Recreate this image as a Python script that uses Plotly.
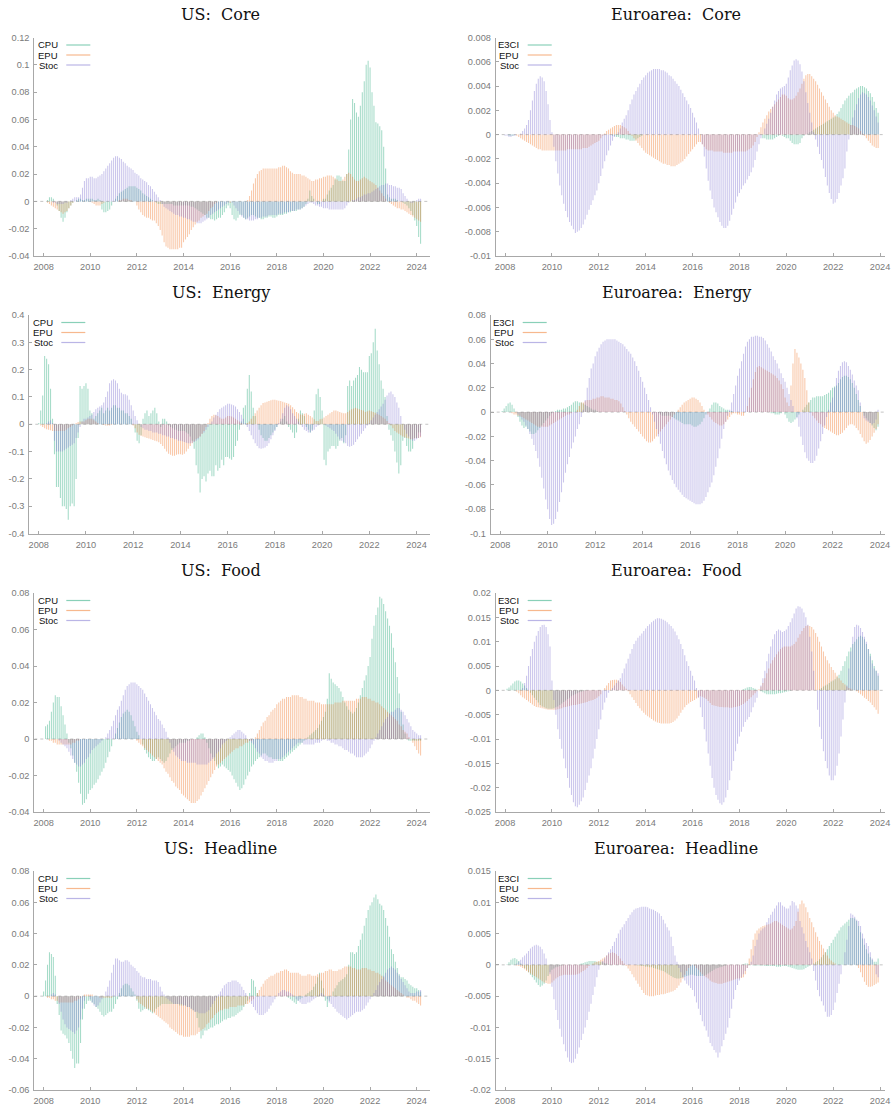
import plotly.graph_objects as go

# ---------------------------------------------------------------------------
# Monthly contributions, first bar = Jan 2008.  Values are stored as integers
# in the unit given by each panel's *_UNIT constant.
# US series run to Mar 2024, euro-area series to Dec 2023.
# ---------------------------------------------------------------------------

# US: Core  (unit 1e-3)
US_CORE_UNIT = 1e-3
US_CORE_CPU = [
    0, 0, 1, 3, 3, 2, 0, -3, -7, -12, -15, -12,
    -8, -5, -3, -1, 0, 1, 2, 2, 1, 1, 2, 2,
    2, 2, 1, 1, 2, 1, -6, -8, -8, -7, -6, -3,
    0, 2, 4, 6, 7, 8, 9, 10, 11, 11, 11, 11,
    10, 9, 8, 6, 5, 4, 3, 2, 1, 0, -1, -2,
    -2, -2, -2, -2, -2, -2, -2, -3, -3, -3, -3, -3,
    -3, -3, -3, -3, -4, -4, -5, -6, -7, -8, -9, -10,
    -12, -12, -13, -13, -14, -13, -12, -12, -10, -8, -5, -3,
    -5, -10, -13, -14, -12, -10, -10, -12, -13, -12, -11, -10,
    -10, -11, -12, -12, -13, -13, -12, -12, -11, -11, -12, -12,
    -11, -10, -10, -10, -9, -9, -8, -8, -7, -7, -7, -6,
    -6, -5, -4, -2, 2, 8, 4, 2, 0, -2, -2, 0,
    2, 2, 5, 8, 10, 12, 16, 19, 19, 18, 15, 15,
    20, 38, 60, 75, 72, 65, 62, 70, 80, 88, 100, 103,
    98, 80, 70, 58, 57, 55, 52, 40, 24, 5, 3, 2,
    2, 2, 1, 0, 0, -1, -2, -3, -5, -7, -10, -14,
    -18, -26, -31,
]
US_CORE_EPU = [
    0, 0, -1, -2, -3, -4, -5, -6, -7, -8, -9, -8,
    -7, -5, -3, -1, 0, 0, 0, 0, 0, 0, 0, 0,
    0, -1, -2, -3, -3, -3, -2, -1, 0, 0, 0, 0,
    0, 0, 0, 1, 1, 2, 2, 2, 1, 1, 0, 0,
    -3, -6, -8, -10, -11, -12, -12, -13, -14, -14, -16, -18,
    -21, -25, -30, -33, -34, -35, -35, -35, -35, -35, -34, -34,
    -30, -28, -26, -24, -21, -19, -17, -15, -14, -12, -11, -10,
    -9, -7, -5, -4, -2, -1, 0, 0, 0, 0, 0, 0,
    -1, 0, 0, 0, 0, 0, 0, 0, 0, 1, 4, 8,
    13, 17, 20, 22, 23, 24, 24, 24, 24, 24, 24, 24,
    24, 25, 25, 26, 26, 25, 24, 22, 21, 20, 20, 20,
    20, 19, 19, 18, 17, 16, 15, 15, 16, 16, 17, 17,
    18, 18, 19, 19, 19, 18, 17, 16, 15, 15, 16, 18,
    20, 21, 20, 18, 16, 15, 15, 16, 17, 18, 17, 16,
    15, 14, 13, 12, 10, 8, 6, 4, 2, 0, -1, -2,
    -3, -4, -5, -5, -6, -6, -7, -8, -9, -10, -11, -12,
    -13, -14, -15,
]
US_CORE_STOC = [
    0, 0, 0, 0, 0, -1, -1, -2, -2, -2, -2, -1,
    -1, 0, 1, 2, 3, 3, 3, 5, 10, 15, 17, 17,
    18, 18, 17, 17, 18, 19, 20, 22, 24, 26, 28, 30,
    32, 33, 33, 32, 31, 29, 28, 26, 25, 24, 23, 21,
    20, 19, 17, 16, 15, 14, 12, 11, 9, 7, 5, 3,
    1, -2, -4, -5, -6, -7, -8, -9, -10, -10, -11, -11,
    -12, -12, -13, -13, -14, -15, -15, -16, -16, -16, -15, -14,
    -13, -12, -10, -9, -8, -7, -6, -5, -4, -3, -2, -1,
    0, -1, -3, -5, -7, -9, -11, -12, -13, -13, -14, -14,
    -14, -13, -13, -12, -12, -11, -11, -11, -10, -10, -10, -10,
    -10, -9, -9, -9, -8, -8, -8, -7, -7, -7, -6, -6,
    -6, -5, -4, -3, -2, -1, -1, -2, -3, -3, -4, -4,
    -5, -5, -5, -6, -6, -6, -6, -6, -6, -6, -6, -5,
    -3, -1, 0, 1, 1, 2, 3, 3, 4, 5, 5, 6,
    6, 7, 8, 9, 10, 11, 12, 12, 13, 13, 12, 12,
    11, 11, 10, 10, 9, 6, 4, 2, 0, -1, -1, 0,
    1, 2, 2,
]
US_CORE_YTICKS = [-0.04, -0.02, 0, 0.02, 0.04, 0.06, 0.08, 0.1, 0.12]

# US: Energy  (unit 1e-3)
US_ENERGY_UNIT = 1e-3
US_ENERGY_CPU = [
    5, 50, 105, 250, 240, 220, 130, 20, -110, -230, -230, -270,
    -300, -300, -310, -350, -300, -290, -300, -200, -50, 140, 130, 140,
    150, 130, 50, 40, 20, 30, 40, 50, 60, 40, 50, 60,
    50, 60, 70, 70, 60, 60, 50, 50, 40, 40, 30, 20,
    0, -30, -60, -70, -40, 20, 40, 50, 30, 40, 50, 60,
    40, 10, -10, 20, 20, 10, -5, -10, -15, -20, -20, -25,
    -25, -25, -25, -30, -35, -45, -60, -90, -150, -180, -250, -200,
    -190, -210, -180, -170, -190, -190, -150, -170, -160, -130, -150, -120,
    -120, -125, -130, -120, -80, -60, -20, 10, 60, 70, 130, 180,
    120, 60, 30, 0, -20, -40, -50, -60, -60, -50, -40, -30,
    -20, -10, 0, 10, 20, 30, 10, -10, -20, -30, -50, -30,
    20, 50, 40, 30, -10, -20, -30, -20, 50, 110, 130, 100,
    50, -130, -150, -100, -90, -80, -80, -90, -80, -60, -50, -70,
    -40, 140, 160, 140, 160, 170, 180, 210, 200, 190, 190, 190,
    250, 260, 300, 350, 270, 220, 160, 130, 100, 30, -20, -40,
    -60, -100, -140, -180, -150, -60, -50, -80, -100, -100, -90, -50,
    -50, -30, -30,
]
US_ENERGY_EPU = [
    0, -5, -10, -15, -18, -20, -22, -25, -25, -25, -25, -25,
    -25, -25, -20, -15, -10, -5, 0, 5, 8, 10, 10, 10,
    15, 20, 20, 20, 15, 10, 5, 0, 0, -3, -5, -5,
    -5, -3, 0, 0, 0, 0, 0, 0, 0, 0, 0, 0,
    -5, -15, -30, -38, -42, -45, -48, -50, -52, -55, -58, -60,
    -62, -66, -72, -80, -90, -100, -108, -112, -115, -115, -112, -110,
    -110, -112, -108, -100, -90, -80, -70, -62, -55, -50, -45, -35,
    -25, -10, 5, 20, 30, 35, 33, 30, 25, 20, 20, 25,
    30, 30, 28, 25, 20, 15, 10, 5, 2, 0, 5, 10,
    20, 30, 40, 50, 60, 70, 78, 80, 82, 85, 88, 90,
    90, 88, 86, 85, 82, 80, 78, 75, 70, 62, 55, 45,
    40, 36, 35, 38, 40, 35, 30, 25, 18, 12, 12, 18,
    20, 25, 30, 35, 40, 45, 50, 50, 48, 45, 42, 40,
    40, 45, 50, 55, 58, 60, 58, 55, 52, 50, 45, 48,
    50, 48, 45, 42, 38, 35, 30, 25, 20, 12, 5, -5,
    -15, -25, -30, -35, -40, -45, -48, -50, -52, -55, -55, -52,
    -50, -50, -48,
]
US_ENERGY_STOC = [
    0, 0, 0, 0, 5, 10, 15, 5, -60, -100, -100, -100,
    -100, -95, -90, -85, -80, -75, -70, -50, -30, -10, 10, 20,
    20, 25, 30, 35, 45, 55, 60, 65, 70, 80, 100, 120,
    150, 160, 165, 160, 150, 130, 115, 110, 110, 105, 90, 70,
    50, 30, 15, 0, -10, -15, -20, -20, -25, -25, -30, -30,
    -30, -35, -35, -40, -40, -45, -45, -50, -50, -55, -55, -60,
    -60, -62, -65, -68, -70, -70, -68, -65, -60, -55, -45, -35,
    -30, -20, -10, 0, 10, 25, 35, 45, 55, 60, 65, 70,
    75, 75, 72, 70, 65, 55, 45, 35, 20, 5, -10, -25,
    -40, -55, -70, -80, -88, -90, -88, -85, -80, -70, -55, -40,
    -25, -10, 5, 20, 40, 60, 70, 65, 55, 40, 30, 20,
    10, 0, -10, -20, -25, -30, -30, -25, -20, -10, -5, 0,
    0, 0, -5, -10, -15, -20, -25, -35, -45, -55, -60, -65,
    -70, -80, -82, -80, -75, -65, -55, -45, -35, -25, -15, -5,
    5, 15, 25, 35, 45, 55, 65, 75, 90, 105, 115, 120,
    110, 100, 80, 60, 30, 0, -20, -35, -45, -55, -60, -60,
    -55, -50, -45,
]
US_ENERGY_YTICKS = [-0.4, -0.3, -0.2, -0.1, 0, 0.1, 0.2, 0.3, 0.4]

# US: Food  (unit 1e-3)
US_FOOD_UNIT = 1e-3
US_FOOD_CPU = [
    0, 7, 8, 10, 15, 20, 24, 23, 23, 18, 13, 8,
    3, -2, -5, -9, -13, -18, -24, -30, -36, -35, -33, -30,
    -28, -27, -25, -24, -22, -20, -18, -16, -13, -10, -7, -4,
    0, 3, 6, 9, 12, 14, 15, 16, 15, 13, 10, 7,
    4, 2, 0, -3, -6, -8, -10, -11, -12, -12, -11, -10,
    -11, -12, -13, -12, -10, -8, -6, -5, -4, -3, -2, -2,
    -2, -2, -1, -1, 0, 0, 0, 1, 2, 3, 3, 1,
    -2, -5, -8, -10, -12, -14, -16, -15, -14, -15, -16, -17,
    -18, -20, -22, -24, -26, -28, -27, -25, -22, -20, -18, -15,
    -14, -12, -11, -10, -9, -8, -8, -9, -10, -10, -11, -11,
    -11, -12, -12, -12, -11, -10, -9, -8, -7, -6, -5, -4,
    -3, -2, -1, 0, 1, 2, 3, 4, 5, 6, 8, 10,
    12, 15, 22, 36, 33, 31, 30, 29, 28, 26, 23, 20,
    18, 16, 15, 14, 15, 17, 20, 24, 28, 32, 35, 40,
    45, 55, 62, 68, 72, 78, 77, 74, 70, 66, 62, 58,
    50, 42, 34, 25, 15, 8, 3, 0, -1, -1, -1, -1,
    -1, -1, -1,
]
US_FOOD_EPU = [
    0, 0, 0, -1, -1, -2, -2, -3, -3, -3, -3, -3,
    -3, -3, -3, -2, -2, -1, -1, 0, 0, 0, 0, 0,
    0, 0, 0, 0, 0, 0, 0, 0, 0, 0, 0, 0,
    0, 0, 0, 0, 0, 0, 0, 0, 0, 0, 0, 0,
    -1, -2, -3, -4, -5, -6, -7, -8, -9, -10, -11, -12,
    -13, -14, -16, -18, -19, -21, -23, -24, -26, -27, -28, -30,
    -31, -32, -33, -34, -35, -35, -35, -34, -33, -31, -29, -27,
    -25, -23, -21, -19, -17, -15, -14, -13, -12, -11, -10, -9,
    -8, -7, -6, -5, -5, -4, -4, -3, -2, -2, -1, -1,
    0, 1, 3, 5, 7, 9, 10, 12, 13, 15, 16, 17,
    19, 20, 21, 22, 22, 23, 23, 23, 24, 24, 24, 24,
    23, 23, 22, 22, 21, 21, 21, 21, 20, 20, 20, 19,
    19, 19, 19, 19, 19, 19, 20, 20, 20, 20, 21, 21,
    21, 21, 21, 21, 21, 22, 22, 22, 23, 23, 23, 22,
    22, 21, 21, 20, 20, 19, 18, 17, 16, 15, 14, 13,
    12, 11, 10, 8, 7, 5, 4, 3, 1, 0, -2, -4,
    -6, -8, -9,
]
US_FOOD_STOC = [
    0, 0, 0, 0, 0, 0, 0, 0, -1, -2, -3, -4,
    -5, -7, -9, -11, -13, -14, -15, -15, -14, -13, -11, -10,
    -8, -6, -5, -4, -3, -2, -1, 0, 1, 3, 5, 7,
    10, 13, 16, 18, 21, 24, 27, 29, 30, 31, 31, 31,
    30, 29, 28, 27, 25, 23, 21, 19, 17, 15, 13, 11,
    10, 8, 6, 4, 1, -2, -5, -7, -9, -10, -11, -12,
    -12, -12, -13, -13, -13, -13, -13, -14, -14, -14, -14, -14,
    -14, -13, -12, -11, -10, -8, -7, -5, -3, -2, -1, 0,
    1, 2, 3, 4, 5, 5, 4, 3, 2, 0, -1, -2,
    -3, -5, -7, -8, -10, -11, -12, -12, -13, -13, -13, -12,
    -12, -11, -11, -10, -9, -8, -7, -6, -5, -4, -3, -2,
    -2, -2, -3, -3, -3, -3, -3, -3, -2, -2, -2, -1,
    0, 0, -1, -1, -2, -2, -3, -3, -4, -4, -5, -6,
    -6, -7, -8, -8, -9, -10, -10, -10, -10, -9, -8, -7,
    -5, -3, -1, 1, 3, 5, 7, 9, 11, 12, 14, 15,
    15, 16, 17, 17, 16, 15, 13, 11, 9, 7, 5, 4,
    3, 2, 2,
]
US_FOOD_YTICKS = [-0.04, -0.02, 0, 0.02, 0.04, 0.06, 0.08]

# US: Headline  (unit 1e-3)
US_HEAD_UNIT = 1e-3
US_HEAD_CPU = [
    3, 10, 20, 28, 27, 25, 13, -5, -12, -22, -24, -25,
    -27, -30, -35, -40, -46, -43, -43, -30, -15, -8, -5, -3,
    -3, -4, -5, -7, -8, -10, -12, -13, -12, -11, -10, -10,
    -8, -5, -2, 2, 5, 7, 8, 8, 7, 5, 3, 1,
    -3, -8, -10, -9, -8, -8, -9, -10, -11, -10, -8, -7,
    -6, -5, -5, -5, -5, -5, -5, -5, -5, -5, -6, -6,
    -6, -6, -7, -7, -8, -9, -10, -14, -20, -27, -25, -22,
    -22, -21, -20, -20, -19, -18, -18, -17, -16, -15, -15, -14,
    -14, -13, -13, -12, -11, -10, -9, -7, -5, -3, 2, 11,
    10, 6, 2, 0, 0, 0, 0, 0, 0, 0, 0, 0,
    0, 0, 0, 0, 0, 0, -1, -2, -3, -4, -5, -3,
    -2, -1, 0, 1, 2, 3, 4, 6, 8, 12, 15, 10,
    5, -3, -7, -3, 0, 3, 5, 7, 9, 10, 11, 12,
    14, 20, 28, 28, 27, 28, 32, 36, 40, 45, 50, 55,
    58, 60, 63, 65, 62, 59, 58, 55, 50, 45, 38, 30,
    27, 22, 18, 14, 12, 12, 11, 10, 8, 7, 6, 5,
    5, 4, 3,
]
US_HEAD_EPU = [
    0, 0, -1, -1, -2, -2, -3, -3, -4, -4, -4, -4,
    -4, -4, -4, -4, -3, -3, -2, -1, 0, 1, 1, 1,
    1, 1, 0, 0, 0, -1, -1, -1, -1, -1, -1, -1,
    0, 0, 0, 0, 0, 0, 0, 0, 0, 0, 0, 0,
    -2, -4, -5, -6, -7, -8, -8, -9, -10, -11, -12, -13,
    -14, -15, -16, -17, -18, -20, -21, -22, -23, -24, -25, -25,
    -26, -26, -26, -26, -25, -25, -25, -24, -23, -22, -21, -20,
    -18, -17, -15, -14, -12, -11, -10, -9, -9, -8, -8, -8,
    -7, -7, -7, -7, -6, -6, -6, -6, -5, -5, -4, -3,
    -2, 0, 2, 4, 6, 8, 10, 11, 12, 13, 13, 14,
    15, 15, 16, 16, 17, 17, 16, 15, 15, 15, 15, 15,
    14, 13, 13, 13, 14, 14, 13, 13, 13, 14, 14, 15,
    15, 16, 16, 17, 17, 16, 16, 16, 17, 17, 18, 19,
    19, 19, 19, 18, 18, 17, 17, 17, 18, 18, 18, 17,
    17, 16, 16, 15, 15, 14, 13, 12, 10, 9, 8, 7,
    6, 5, 4, 3, 2, 1, 0, -1, -1, -2, -3, -3,
    -4, -5, -6,
]
US_HEAD_STOC = [
    0, 0, 0, 0, 1, 2, 1, 0, -5, -10, -15, -18,
    -20, -21, -22, -23, -24, -22, -20, -15, -8, -3, 0, 0,
    -2, -4, -6, -7, -6, -4, -2, 0, 3, 6, 10, 15,
    20, 24, 24, 23, 22, 22, 23, 23, 22, 20, 19, 18,
    16, 15, 13, 12, 12, 11, 11, 11, 10, 10, 10, 9,
    6, 3, 1, -1, -2, -3, -4, -5, -5, -5, -5, -5,
    -6, -6, -7, -7, -8, -9, -10, -10, -11, -11, -11, -11,
    -10, -9, -7, -5, -3, -1, 1, 3, 5, 7, 8, 9,
    9, 10, 10, 10, 9, 8, 6, 4, 2, 0, -2, -5,
    -7, -9, -11, -12, -12, -12, -11, -10, -8, -6, -4, -2,
    0, 2, 3, 4, 4, 3, 3, 2, 1, 0, -2, -3,
    -4, -5, -5, -5, -4, -4, -3, -2, -1, 0, 1, 2,
    1, 0, -2, -4, -5, -7, -8, -10, -11, -12, -13, -14,
    -15, -14, -13, -12, -11, -10, -10, -10, -9, -8, -6, -4,
    -2, 0, 2, 4, 7, 9, 11, 13, 15, 17, 18, 19,
    18, 17, 15, 13, 11, 9, 7, 5, 3, 2, 2, 2,
    3, 3, 4,
]
US_HEAD_YTICKS = [-0.06, -0.04, -0.02, 0, 0.02, 0.04, 0.06, 0.08]

# Euroarea: Core  (unit 1e-4)
EA_CORE_UNIT = 1e-4
EA_CORE_E3CI = [
    0, 0, -1, -1, -1, 0, 0, 0, 0, 0, 0, 0,
    0, 0, 0, 0, 0, 0, 0, 0, 0, 0, 0, 0,
    0, 0, 0, 0, 0, 0, 0, 0, 0, 0, 0, 0,
    0, 0, 0, 0, 0, 0, 0, 0, 0, 0, 0, 0,
    0, 0, 0, 0, 0, 0, 0, -1, -1, -2, -2, -3,
    -3, -3, -4, -4, -5, -5, -5, -4, -3, -2, -1, 0,
    0, 0, 0, 0, 0, 0, 0, 0, 0, 0, 0, 0,
    0, 0, 0, 0, 0, 0, 0, 0, 0, 0, 0, 0,
    0, 0, 0, 0, 0, 0, 0, 0, 0, 0, 0, 0,
    0, 0, 0, 0, 0, 0, 0, 0, 0, 0, 0, 0,
    0, 0, 0, 0, 0, 0, 0, 0, 0, 0, 0, 0,
    -3, -3, -4, -4, -4, -4, -3, -2, -1, 0, -1, -2,
    -3, -3, -5, -7, -8, -8, -8, -7, -3, -1, 0, 1,
    2, 3, 4, 5, 6, 7, 8, 9, 10, 11, 12, 13,
    14, 15, 17, 19, 22, 25, 28, 30, 32, 34, 35, 37,
    38, 39, 40, 40, 39, 38, 36, 34, 31, 27, 22, 18,
]
EA_CORE_EPU = [
    0, 0, 0, 0, 0, 0, -1, -2, -3, -4, -5, -6,
    -7, -8, -9, -10, -11, -12, -12, -13, -13, -13, -13, -13,
    -13, -13, -13, -13, -13, -13, -13, -13, -12, -12, -12, -12,
    -12, -12, -12, -12, -11, -11, -11, -10, -9, -8, -7, -6,
    -5, -3, -1, 1, 3, 4, 5, 6, 7, 8, 8, 8,
    7, 6, 5, 3, 1, -1, -3, -5, -7, -9, -11, -13,
    -15, -16, -17, -18, -19, -20, -21, -22, -23, -24, -24, -25,
    -25, -26, -26, -26, -25, -24, -23, -22, -20, -18, -16, -14,
    -12, -10, -8, -6, -6, -8, -10, -12, -13, -13, -13, -14,
    -14, -14, -14, -14, -15, -15, -15, -15, -15, -14, -14, -14,
    -14, -14, -14, -14, -13, -12, -11, -9, -6, -2, 2, 6,
    10, 13, 16, 19, 21, 23, 25, 27, 29, 31, 33, 33,
    32, 30, 29, 29, 30, 32, 35, 38, 42, 46, 49, 50,
    50, 48, 46, 44, 41, 38, 35, 32, 29, 26, 23, 20,
    18, 16, 15, 14, 13, 12, 11, 10, 9, 8, 8, 7,
    6, 5, 3, 1, -1, -3, -5, -7, -9, -10, -11, -11,
]
EA_CORE_STOC = [
    -1, -1, -2, -2, -1, -1, 0, 0, 1, 3, 5, 8,
    12, 20, 28, 36, 42, 46, 48, 47, 44, 36, 25, 12,
    2, -10, -22, -32, -42, -50, -57, -63, -68, -72, -75, -78,
    -81, -80, -79, -77, -74, -70, -66, -62, -58, -54, -50, -46,
    -40, -34, -28, -22, -17, -13, -9, -5, -2, 0, 2, 5,
    10, 13, 16, 20, 25, 29, 33, 36, 39, 42, 45, 47,
    49, 51, 52, 53, 54, 54, 54, 54, 53, 53, 52, 51,
    49, 48, 46, 44, 42, 40, 37, 34, 31, 28, 25, 22,
    18, 14, 10, 5, 0, -8, -18, -28, -38, -46, -53, -60,
    -64, -68, -72, -75, -77, -77, -75, -71, -66, -61, -56, -51,
    -48, -45, -42, -40, -37, -34, -31, -27, -21, -14, -8, -3,
    0, 5, 9, 13, 18, 23, 28, 33, 36, 38, 39, 40,
    42, 47, 53, 57, 61, 62, 61, 58, 52, 44, 35, 26,
    18, 10, 2, -4, -10, -16, -21, -28, -35, -42, -48, -53,
    -57, -56, -53, -48, -42, -36, -28, -14, -4, 8, 14, 20,
    25, 30, 33, 35, 34, 33, 31, 28, 24, 20, 15, 10,
]
EA_CORE_YTICKS = [-0.01, -0.008, -0.006, -0.004, -0.002, 0,
                  0.002, 0.004, 0.006, 0.008]

# Euroarea: Energy  (unit 1e-3)
EA_ENERGY_UNIT = 1e-3
EA_ENERGY_E3CI = [
    0, 1, 3, 5, 7, 8, 6, 3, 0, -4, -8, -11,
    -13, -12, -14, -16, -18, -18, -17, -15, -13, -11, -9, -7,
    -5, -3, -1, 0, 1, 2, 2, 2, 3, 3, 4, 5,
    6, 8, 9, 9, 8, 8, 7, 6, 5, 4, 3, 2,
    2, 1, 0, 0, 0, 0, 0, 0, 0, 0, 0, 0,
    0, 0, 0, 0, 0, 0, 0, 0, 0, 0, 0, 0,
    0, 0, 0, 0, 0, 0, 0, 0, -1, -2, -3, -3,
    -3, -3, -3, -4, -5, -6, -7, -8, -9, -10, -10, -10,
    -10, -11, -12, -12, -11, -10, -8, -5, -2, 0, 3, 6,
    8, 8, 7, 5, 4, 3, 2, 2, 1, 1, 0, 0,
    0, 0, 0, 0, 0, 0, 0, 0, 0, 0, 0, 0,
    0, 0, 0, 0, 0, -1, -1, -2, -2, -2, -1, 0,
    -2, -5, -8, -9, -8, -6, -4, -2, 0, 2, 4, 6,
    8, 10, 12, 12, 13, 13, 13, 13, 14, 15, 16, 18,
    20, 21, 22, 24, 27, 29, 30, 30, 29, 27, 24, 20,
    15, 10, 5, 0, -3, -5, -7, -9, -11, -13, -15, -12,
]
EA_ENERGY_EPU = [
    0, 0, 0, 0, 0, 0, -1, -2, -2, -3, -3, -4,
    -5, -6, -7, -8, -9, -10, -11, -12, -12, -12, -12, -12,
    -12, -11, -10, -9, -8, -7, -6, -5, -4, -3, -2, -2,
    -1, 0, 0, 2, 5, 8, 8, 9, 10, 10, 10, 11,
    11, 12, 12, 13, 13, 12, 12, 12, 11, 11, 10, 10,
    9, 7, 4, 1, -2, -5, -8, -10, -12, -14, -16, -18,
    -20, -22, -24, -25, -25, -24, -22, -20, -18, -16, -14, -12,
    -10, -8, -6, -4, -2, 0, 2, 4, 6, 8, 9, 10,
    11, 12, 12, 11, 10, 8, 5, 2, 0, -2, -4, -6,
    -8, -9, -10, -11, -11, -10, -8, -6, -4, -2, -1, -1,
    -2, -2, -3, -3, 0, 5, 12, 20, 27, 33, 37, 38,
    37, 36, 35, 34, 33, 32, 31, 30, 28, 26, 23, 19,
    12, 8, 5, 22, 40, 52, 49, 45, 40, 35, 28, 18,
    8, 0, -3, -5, -7, -9, -10, -12, -13, -14, -15, -16,
    -17, -18, -19, -19, -18, -17, -15, -13, -11, -10, -10, -11,
    -13, -15, -18, -21, -24, -26, -25, -23, -20, -17, -14, -10,
]
EA_ENERGY_STOC = [
    0, 0, 0, 0, 0, 0, 0, 0, 0, -2, -4, -6,
    -8, -11, -14, -18, -22, -27, -32, -38, -45, -54, -63, -72,
    -80, -88, -93, -92, -88, -82, -74, -66, -58, -50, -43, -37,
    -30, -25, -20, -14, -10, -4, 2, 10, 20, 28, 36, 40,
    46, 50, 53, 56, 58, 59, 60, 60, 60, 60, 60, 59,
    58, 57, 56, 54, 52, 50, 48, 45, 42, 38, 34, 29,
    25, 20, 15, 10, 4, -2, -8, -14, -20, -26, -32, -38,
    -43, -48, -52, -56, -59, -62, -64, -66, -68, -70, -71, -72,
    -73, -74, -75, -76, -76, -76, -75, -73, -70, -66, -62, -58,
    -52, -45, -38, -30, -22, -14, -8, -3, 2, 8, 15, 22,
    30, 36, 42, 48, 54, 58, 60, 62, 62, 63, 63, 62,
    62, 61, 59, 56, 53, 50, 46, 43, 40, 36, 32, 28,
    25, 20, 15, 10, 5, 0, -5, -12, -20, -27, -33, -38,
    -40, -42, -42, -40, -36, -30, -24, -18, -11, -4, 2, 8,
    12, 20, 28, 34, 38, 41, 42, 41, 38, 35, 31, 26,
    22, 18, 8, 0, -5, -7, -8, -9, -10, -9, -6, 2,
]
EA_ENERGY_YTICKS = [-0.1, -0.08, -0.06, -0.04, -0.02, 0, 0.02, 0.04, 0.06, 0.08]

# Euroarea: Food  (unit 1e-4)
EA_FOOD_UNIT = 1e-4
EA_FOOD_E3CI = [
    0, 3, 6, 10, 14, 18, 20, 20, 18, 14, 10, 5,
    0, -5, -10, -15, -20, -25, -30, -33, -35, -37, -38, -38,
    -38, -37, -35, -33, -30, -27, -24, -21, -18, -15, -12, -10,
    -8, -6, -4, -3, -2, -1, 0, 0, 0, 0, 0, 0,
    0, 0, 0, 0, 0, 0, 0, 0, 0, 0, 0, 0,
    0, 0, 0, 0, 0, 0, 0, 0, 0, 0, 0, 0,
    0, 0, 0, 0, 0, 0, 0, 0, 0, 0, 0, 0,
    0, 0, 0, 0, 0, 0, 0, 0, 0, 0, 0, 0,
    0, 0, 0, 0, 0, 0, 0, 0, 0, 0, 0, 0,
    0, 0, 0, 0, 0, 0, 0, 0, 0, 0, 0, 0,
    0, 0, 2, 4, 6, 7, 7, 5, 3, 1, 0, -2,
    -4, -6, -8, -8, -8, -8, -8, -7, -6, -6, -5, -4,
    -3, -2, -1, 0, 0, 0, 0, 0, 0, 0, 0, 0,
    0, 0, 0, 0, 0, 2, 5, 8, 10, 12, 15, 18,
    20, 23, 27, 32, 40, 50, 60, 70, 80, 88, 95, 100,
    105, 110, 112, 110, 105, 95, 85, 75, 62, 50, 40, 30,
]
EA_FOOD_EPU = [
    0, 0, 0, 0, 0, 0, -3, -6, -10, -14, -17, -20,
    -23, -26, -29, -32, -34, -35, -36, -37, -38, -39, -40, -40,
    -40, -40, -40, -39, -38, -37, -35, -34, -33, -32, -31, -30,
    -30, -29, -28, -27, -26, -25, -24, -22, -21, -20, -18, -15,
    -12, -8, 0, 5, 10, 15, 20, 21, 22, 22, 20, 17,
    12, 8, 3, -2, -8, -14, -20, -26, -32, -37, -42, -46,
    -50, -53, -56, -59, -62, -64, -66, -67, -68, -68, -68, -68,
    -68, -67, -65, -62, -58, -52, -46, -40, -35, -30, -27, -24,
    -22, -20, -17, -14, -12, -13, -15, -18, -22, -26, -30, -31,
    -32, -33, -34, -34, -35, -35, -35, -36, -36, -35, -34, -33,
    -32, -30, -28, -25, -22, -18, -14, -10, -6, -2, 2, 8,
    15, 25, 35, 45, 55, 62, 68, 74, 80, 85, 88, 90,
    90, 90, 90, 92, 95, 100, 108, 115, 122, 128, 132, 133,
    132, 130, 125, 118, 110, 100, 90, 80, 70, 62, 55, 48,
    42, 36, 30, 25, 20, 15, 12, 8, 5, 3, 1, 0,
    -2, -5, -8, -11, -15, -18, -22, -25, -30, -35, -40, -48,
]
EA_FOOD_STOC = [
    0, 0, 0, 0, 0, 0, 0, 0, 0, 5, 15, 30,
    50, 70, 85, 100, 112, 122, 130, 134, 135, 130, 115, 90,
    20, -20, -50, -80, -100, -120, -140, -160, -180, -200, -215, -230,
    -238, -240, -235, -228, -220, -205, -190, -175, -160, -140, -120, -100,
    -80, -60, -40, -25, -15, -5, 0, 5, 10, 15, 20, 25,
    35, 45, 55, 65, 75, 85, 95, 102, 108, 112, 117, 122,
    127, 132, 136, 140, 143, 146, 148, 148, 147, 145, 143, 140,
    136, 132, 127, 121, 113, 105, 95, 85, 72, 60, 50, 40,
    30, 20, 5, -15, -35, -55, -80, -105, -130, -155, -180, -200,
    -215, -225, -232, -235, -230, -220, -205, -185, -165, -145, -125, -110,
    -95, -85, -75, -65, -60, -55, -45, -35, -25, -15, 0, 10,
    25, 40, 60, 75, 90, 105, 115, 122, 125, 123, 120, 122,
    125, 132, 140, 148, 158, 168, 173, 172, 168, 160, 150, 135,
    110, 80, 40, 0, -40, -75, -100, -125, -145, -160, -175, -185,
    -185, -175, -155, -130, -95, -60, -25, 10, 45, 80, 110, 130,
    135, 133, 128, 120, 110, 100, 85, 70, 55, 45, 40, 35,
]
EA_FOOD_YTICKS = [-0.025, -0.02, -0.015, -0.01, -0.005, 0,
                  0.005, 0.01, 0.015, 0.02]

# Euroarea: Headline  (unit 1e-4)
EA_HEAD_UNIT = 1e-4
EA_HEAD_E3CI = [
    0, 1, 4, 8, 10, 11, 9, 6, 2, -2, -5, -8,
    -12, -16, -20, -24, -28, -32, -35, -33, -30, -25, -18, -12,
    -8, -6, -4, -3, -2, -1, 0, 0, 0, 0, 0, 0,
    0, 0, 1, 2, 3, 4, 5, 6, 6, 6, 6, 5,
    5, 5, 4, 3, 2, 1, 0, 0, 0, 0, 0, 0,
    0, 0, 0, 0, 0, 0, 0, 0, -1, -1, -2, -2,
    -3, -3, -4, -4, -5, -6, -7, -8, -9, -10, -12, -14,
    -16, -18, -20, -21, -22, -22, -21, -20, -19, -18, -17, -16,
    -16, -17, -18, -18, -18, -18, -17, -16, -14, -12, -10, -8,
    -6, -5, -4, -3, -2, -1, 0, 0, 0, 0, 0, 0,
    0, 0, 1, 2, 2, 1, 0, -1, -1, -1, -1, -1,
    -1, -2, -2, -2, -2, -2, -2, -3, -3, -3, -2, -2,
    -2, -3, -4, -5, -6, -7, -8, -8, -8, -7, -5, -3,
    -1, 0, 2, 4, 6, 9, 12, 16, 20, 25, 30, 35,
    40, 45, 50, 55, 60, 63, 66, 69, 72, 75, 75, 74,
    70, 62, 52, 42, 32, 25, 18, 12, 8, 5, 5, 10,
]
EA_HEAD_EPU = [
    0, 0, 0, 0, 0, 0, -1, -2, -3, -5, -7, -10,
    -12, -14, -16, -18, -20, -22, -24, -26, -28, -29, -30, -30,
    -28, -25, -22, -20, -18, -17, -16, -16, -16, -16, -16, -16,
    -16, -15, -14, -12, -10, -8, -5, -2, 0, 2, 4, 5,
    6, 8, 10, 12, 15, 18, 19, 20, 19, 17, 14, 10,
    6, 2, -2, -6, -10, -15, -20, -25, -30, -35, -40, -45,
    -48, -49, -50, -50, -50, -49, -48, -48, -47, -47, -46, -45,
    -44, -43, -42, -40, -37, -33, -28, -22, -16, -10, -5, -2,
    0, -2, -5, -8, -12, -15, -18, -20, -22, -25, -27, -28,
    -29, -30, -30, -30, -29, -28, -27, -26, -25, -24, -23, -22,
    -22, -21, -20, -15, -5, 10, 25, 40, 50, 55, 58, 60,
    62, 63, 64, 65, 66, 68, 70, 70, 68, 66, 64, 62,
    60, 58, 56, 58, 62, 70, 85, 97, 103, 98, 92, 84,
    75, 68, 60, 52, 45, 38, 32, 26, 20, 15, 10, 7,
    4, 2, 0, 0, 0, 0, 0, 0, 0, 0, 0, 0,
    0, -5, -12, -20, -27, -32, -35, -35, -34, -32, -30, -28,
]
EA_HEAD_STOC = [
    0, 0, 0, 0, 0, 0, 2, 5, 8, 12, 15, 18,
    22, 26, 29, 31, 32, 31, 29, 25, 18, 10, 0, -15,
    -35, -55, -72, -88, -102, -115, -127, -138, -148, -155, -157, -156,
    -150, -142, -132, -120, -110, -100, -88, -75, -62, -48, -35, -20,
    -8, 0, 6, 10, 15, 20, 25, 30, 37, 43, 50, 56,
    60, 65, 70, 75, 80, 84, 88, 90, 91, 92, 93, 93,
    93, 92, 90, 89, 88, 86, 84, 82, 78, 72, 66, 60,
    55, 45, 30, 15, 5, -5, -12, -20, -25, -30, -33, -37,
    -40, -50, -60, -70, -80, -90, -98, -105, -115, -125, -130, -136,
    -140, -148, -140, -130, -120, -110, -100, -85, -70, -55, -40, -32,
    -25, -20, -15, -10, -5, 0, 5, 15, 30, 40, 50, 55,
    58, 60, 68, 75, 80, 85, 90, 95, 100, 100, 95, 93,
    90, 90, 95, 102, 100, 95, 90, 70, 60, 50, 38, 28,
    20, 10, -10, -25, -40, -50, -58, -65, -75, -83, -83, -80,
    -72, -60, -45, -30, -15, 0, 20, 40, 62, 82, 80, 77,
    72, 70, 62, 50, 42, 35, 30, 20, 10, 0, -15, -20,
]
EA_HEAD_YTICKS = [-0.02, -0.015, -0.01, -0.005, 0, 0.005, 0.01, 0.015]

X_TICKS = [2008, 2010, 2012, 2014, 2016, 2018, 2020, 2022, 2024]
US_NAMES = ["CPU", "EPU", "Stoc"]
EA_NAMES = ["E3CI", "EPU", "Stoc"]

# ---------------------------------------------------------------------------
# Styling / geometry (pixels on an 895 x 1105 canvas)
# ---------------------------------------------------------------------------
W, H = 895, 1105
BAR_COLORS = ["rgba(40,170,125,0.42)", "rgba(240,125,50,0.42)", "rgba(130,120,210,0.42)"]
LEG_COLORS = ["rgba(40,170,125,0.55)", "rgba(240,125,50,0.55)", "rgba(130,120,210,0.55)"]
BAR_WIDTH = 0.045  # in years (one month = 0.0833)
AXIS_COLOR = "#a8a8a8"
TICK_FONT = dict(family="Liberation Sans, Arial, sans-serif", size=9.2, color="#7a7a7a")
TITLE_FONT = dict(family="DejaVu Serif, serif", size=16, color="#111111")
LEGEND_FONT = dict(family="Liberation Sans, Arial, sans-serif", size=9.5, color="#111111")

ROW_TOP = [37.5, 315.0, 593.0, 871.0]
ROW_BOT = [256.0, 533.5, 812.0, 1090.0]
TITLE_Y = [15.0, 293.0, 570.0, 848.0]
COL_RIGHT = [430.0, 885.0]
COL_TITLE_X = [220.5, 676.0]
X_RANGE = [[2007.6, 2024.57], [2007.6, 2024.21]]

panels = [
    ("US: Core", 0, 0, 34.3, US_NAMES, US_CORE_UNIT,
     [US_CORE_CPU, US_CORE_EPU, US_CORE_STOC], US_CORE_YTICKS),
    ("Euroarea: Core", 0, 1, 495.7, EA_NAMES, EA_CORE_UNIT,
     [EA_CORE_E3CI, EA_CORE_EPU, EA_CORE_STOC], EA_CORE_YTICKS),
    ("US: Energy", 1, 0, 29.3, US_NAMES, US_ENERGY_UNIT,
     [US_ENERGY_CPU, US_ENERGY_EPU, US_ENERGY_STOC], US_ENERGY_YTICKS),
    ("Euroarea: Energy", 1, 1, 490.7, EA_NAMES, EA_ENERGY_UNIT,
     [EA_ENERGY_E3CI, EA_ENERGY_EPU, EA_ENERGY_STOC], EA_ENERGY_YTICKS),
    ("US: Food", 2, 0, 34.3, US_NAMES, US_FOOD_UNIT,
     [US_FOOD_CPU, US_FOOD_EPU, US_FOOD_STOC], US_FOOD_YTICKS),
    ("Euroarea: Food", 2, 1, 495.7, EA_NAMES, EA_FOOD_UNIT,
     [EA_FOOD_E3CI, EA_FOOD_EPU, EA_FOOD_STOC], EA_FOOD_YTICKS),
    ("US: Headline", 3, 0, 34.3, US_NAMES, US_HEAD_UNIT,
     [US_HEAD_CPU, US_HEAD_EPU, US_HEAD_STOC], US_HEAD_YTICKS),
    ("Euroarea: Headline", 3, 1, 495.7, EA_NAMES, EA_HEAD_UNIT,
     [EA_HEAD_E3CI, EA_HEAD_EPU, EA_HEAD_STOC], EA_HEAD_YTICKS),
]


def px(x):
    return x / W


def py(y):
    return 1 - y / H


def tick_text(v):
    return "0" if v == 0 else f"{v:g}"


fig = go.Figure()
layout = dict(
    width=W, height=H, margin=dict(l=0, r=0, t=0, b=0),
    paper_bgcolor="white", plot_bgcolor="white",
    barmode="overlay", showlegend=False, template="none",
    annotations=[], shapes=[],
)

for k, (title, row, col, left, names, unit, series, yticks) in enumerate(panels, start=1):
    xa = "x" if k == 1 else f"x{k}"
    ya = "y" if k == 1 else f"y{k}"
    for vals, color in zip(series, BAR_COLORS):
        xs = [2008 + i / 12 for i in range(len(vals))]
        fig.add_trace(go.Bar(
            x=xs, y=[v * unit for v in vals], width=BAR_WIDTH,
            marker=dict(color=color, line=dict(width=0)),
            xaxis=xa, yaxis=ya, hoverinfo="skip", showlegend=False,
        ))

    common = dict(showgrid=False, zeroline=False, showline=True, linecolor=AXIS_COLOR,
                  linewidth=1, ticks="inside", ticklen=3, tickcolor=AXIS_COLOR,
                  tickwidth=1, tickfont=TICK_FONT, mirror=False, fixedrange=True)
    layout["xaxis" if k == 1 else f"xaxis{k}"] = dict(
        common, domain=[px(left), px(COL_RIGHT[col])], range=X_RANGE[col],
        anchor=ya, tickvals=X_TICKS, ticktext=[str(t) for t in X_TICKS],
        ticklabelstandoff=2,
    )
    layout["yaxis" if k == 1 else f"yaxis{k}"] = dict(
        common, domain=[py(ROW_BOT[row]), py(ROW_TOP[row])],
        range=[yticks[0], yticks[-1]], anchor=xa,
        tickvals=yticks, ticktext=[tick_text(t) for t in yticks],
        ticklabelstandoff=2,
    )

    # dotted zero line
    layout["shapes"].append(dict(
        type="line", xref=xa, yref=ya, x0=X_RANGE[col][0], x1=X_RANGE[col][1],
        y0=0, y1=0, layer="below", line=dict(color="#c4c4c4", width=1, dash="dot"),
    ))

    # panel title
    layout["annotations"].append(dict(
        text=title.replace(": ", ":\u00a0 "), x=px(COL_TITLE_X[col]), y=py(TITLE_Y[row]),
        xref="paper", yref="paper", xanchor="center", yanchor="middle",
        showarrow=False, font=TITLE_FONT,
    ))

    # key: label on the left, line sample on the right
    for j, (name, lc) in enumerate(zip(names, LEG_COLORS)):
        yk = ROW_TOP[row] + 7.5 + 10 * j
        layout["annotations"].append(dict(
            text=name, x=px(left + 25.7), y=py(yk), xref="paper", yref="paper",
            xanchor="right", yanchor="middle", showarrow=False, font=LEGEND_FONT,
        ))
        layout["shapes"].append(dict(
            type="line", xref="paper", yref="paper",
            x0=px(left + 32), x1=px(left + 56), y0=py(yk), y1=py(yk),
            line=dict(color=lc, width=1.2),
        ))

fig.update_layout(**layout)
fig.write_html("out.html")
